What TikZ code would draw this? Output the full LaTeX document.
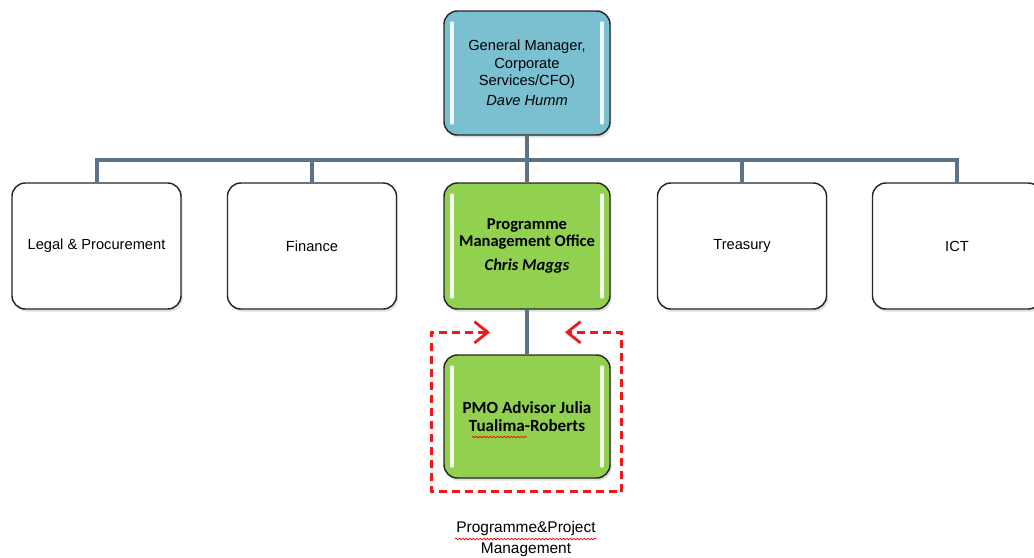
\documentclass[tikz,border=0pt]{standalone}
\usepackage{fontspec}
\setmainfont{Liberation Sans}
\newfontfamily\calibfont{Carlito}
\usetikzlibrary{%
  calc,arrows.meta,shadows,%
  decorations.pathmorphing}
\tikzset {>=Stealth}
\definecolor{gmblue}{RGB}{122,192,208}
\definecolor{pmogreen}{RGB}{146,208,80}
\definecolor{linkgray}{RGB}{94,114,134}
\definecolor{loopred}{RGB}{240,24,24}
\tikzset{
  unit/.style={draw=black!85, line width=1.1pt, rounded corners=10pt,
    fill=white, align=center, inner sep=2pt,
    minimum width=126.75pt, minimum height=94.5pt,
    font=\fontsize{11}{13.2}\selectfont,
    drop shadow={opacity=.25, shadow xshift=1.2pt, shadow yshift=-2pt}},
  gloss/.style={path picture={
    \draw[white, opacity=.9, line width=2.6pt, line cap=round]
      ($(path picture bounding box.north west)+(6pt,-9pt)$) --
      ($(path picture bounding box.south west)+(6pt,9pt)$)
      ($(path picture bounding box.north east)+(-6pt,-9pt)$) --
      ($(path picture bounding box.south east)+(-6pt,9pt)$);}},
  pmofont/.style={font=\calibfont\bfseries\fontsize{12.4}{12.9}\selectfont},
  link/.style={draw=linkgray, line width=3pt},
  loopline/.style={draw=loopred, line width=2.1pt,
    dash pattern=on 6pt off 3.8pt,
    {Straight Barb[length=10pt,width=16pt]}-{Straight Barb[length=10pt,width=16pt]}},
  spell/.style={draw=red, line width=.5pt, decorate,
    decoration={snake, amplitude=.6pt, segment length=2.6pt}}
}
\begin{document}
\begin{tikzpicture}[x=0.75pt,y=-0.75pt]
\useasboundingbox (0,0) rectangle (1034,557);
\node[unit, fill=gmblue, gloss, minimum width=124.5pt, minimum height=93pt]
  (gm) at (527,73) {General Manager,\\Corporate\\Services/CFO)\\[2pt]\textit{Dave Humm}};
\foreach \n/\x/\t in {legal/96.5/Legal \& Procurement,finance/312/Finance,
    treasury/742/Treasury,ict/957/ICT}
  \node[unit] (\n) at (\x,246) {\t};
\node[unit, fill=pmogreen, gloss, pmofont, minimum width=124.5pt]
  (pmo) at (527,246) {Programme\\Management Office\\[5pt]\textit{Chris Maggs}};
\node[unit, fill=pmogreen, gloss, pmofont, minimum width=124.5pt, minimum height=92.25pt,
  font=\calibfont\bfseries\fontsize{12.8}{13.6}\selectfont]
  (advisor) at (527,416.5) {PMO Advisor Julia\\Tualima-Roberts};
\coordinate (bus) at (527,160);
\draw[link] (gm.south) -- (bus);
\draw[link] (legal.north) |- (ict.north |- bus) -- (ict.north);
\foreach \n in {finance,pmo,treasury}
  \draw[link] (\n.north) -- (\n.north |- bus);
\draw[link] (pmo.south) -- (advisor.north);
\coordinate (lnw) at ($(advisor.north west)+(-12,-22)$);
\coordinate (lse) at ($(advisor.south east)+(11,13)$);
\coordinate (tipl) at ($(advisor.north)+(-37,-22)$);
\coordinate (tipr) at ($(advisor.north)+(38,-22)$);
\draw[loopline] (tipl) -- (lnw) |- (lse) |- (tipr);
\node[font=\fontsize{11.6}{15.8}\selectfont, align=center]
  (ppm) at (526,539) {Programme\&Project\\Management};
\draw[spell] (472,437) -- (527,437);
\draw[spell] (455,539) -- (597,539);
\end{tikzpicture}
\end{document}
